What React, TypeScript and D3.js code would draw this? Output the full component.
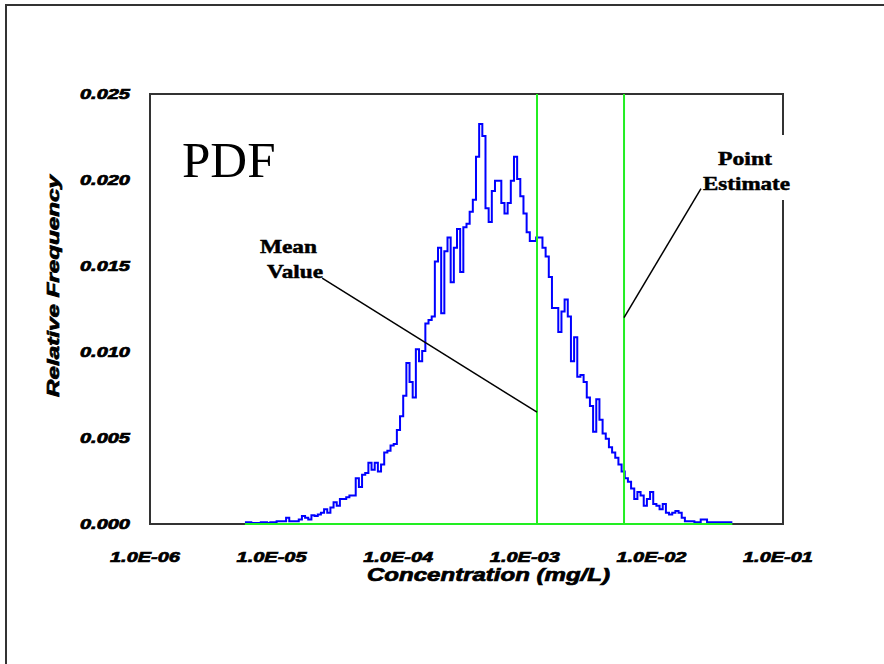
import React from 'react';
import * as d3 from 'd3';

// histogram bins: log10(concentration), uniform width
const binLogStart = -5.25;
const binLogWidth = 0.025;

// relative frequency per bin
const frequencies = [
  0.00005, 0.00005, 0, 0, 0, 0.00005, 0.00005, 0, 0.00005, 0.00005,
  0.0001, 0.0001, 0.0001, 0.0003, 0.0001, 0.0001, 0.0001, 0.0002, 0.0004, 0.0003,
  0.0002, 0.00045, 0.0004, 0.0005, 0.0006, 0.0008, 0.0006, 0.0009, 0.0012, 0.001,
  0.0014, 0.0014, 0.0015, 0.0016, 0.0016, 0.0026, 0.0021, 0.0028, 0.0029, 0.0035,
  0.0031, 0.0035, 0.003, 0.0034, 0.0041, 0.0042, 0.0045, 0.0046, 0.0054, 0.0062,
  0.0074, 0.0093, 0.0082, 0.0073, 0.0101, 0.0094, 0.01, 0.0116, 0.0118, 0.012,
  0.0152, 0.016, 0.0122, 0.0158, 0.0166, 0.014, 0.016, 0.0171, 0.0146, 0.0172,
  0.0174, 0.0181, 0.0188, 0.0213, 0.0232, 0.0225, 0.0183, 0.0175, 0.0193, 0.0199,
  0.0199, 0.0186, 0.018, 0.0186, 0.0199, 0.0213, 0.02, 0.019, 0.018, 0.0169,
  0.0164, 0.0164, 0.0166, 0.0166, 0.016, 0.0155, 0.0143, 0.0125, 0.0125, 0.0111,
  0.0123, 0.013, 0.012, 0.0094, 0.0108, 0.0085, 0.0086, 0.0082, 0.0073, 0.0068,
  0.0053, 0.0072, 0.006, 0.0052, 0.0049, 0.0044, 0.0041, 0.0038, 0.0034, 0.003,
  0.0026, 0.0024, 0.002, 0.0014, 0.0018, 0.0016, 0.001, 0.0014, 0.0018, 0.0011,
  0.001, 0.0008, 0.0011, 0.0006, 0.0005, 0.0006, 0.0007, 0.0006, 0.0003, 0.0001,
  0.0001, 0.0001, 0.00005, 0.00005, 0.0002, 0.0002, 0.00005, 0.00005, 0.00005, 0.00005,
  0.00005, 0.00005, 0.00005, 0.00005,
];

const xTicks = [1e-6, 1e-5, 1e-4, 1e-3, 1e-2, 1e-1];
const xTickLabels = ['1.0E-06', '1.0E-05', '1.0E-04', '1.0E-03', '1.0E-02', '1.0E-01'];
const yTicks = [0, 0.005, 0.01, 0.015, 0.02, 0.025];
const yTickLabels = ['0.000', '0.005', '0.010', '0.015', '0.020', '0.025'];

const meanValue = 1.14e-3;
const pointEstimate = 5.55e-3;

// leader lines: [concentration, frequency] from label to marker
const meanLeader = [[2.29e-5, 0.0143], [1.14e-3, 0.0065]];
const pointLeader = [[5.55e-3, 0.012], [2.25e-2, 0.0195]];

const W = 884;
const H = 664;
const plot = { left: 150, right: 783, top: 94, bottom: 524 };

// heavy bold italic sans, thickened a bit with a stroke
const tickFont = {
  fontFamily: '"Liberation Sans", Arial, sans-serif',
  fontWeight: 'bold',
  fontStyle: 'italic',
  stroke: '#000',
  strokeWidth: 0.7,
} as const;
const serif = '"Liberation Serif", "Times New Roman", serif';

export default function App() {
  const x = d3.scaleLog().domain([1e-6, 1e-1]).range([plot.left, plot.right]);
  const y = d3.scaleLinear().domain([0, 0.025]).range([plot.bottom, plot.top]);

  const bins = frequencies.map((f, i) => ({
    x0: Math.pow(10, binLogStart + i * binLogWidth),
    f,
  }));
  const lastEdge = Math.pow(10, binLogStart + frequencies.length * binLogWidth);
  const stepPts = [...bins, { x0: lastEdge, f: frequencies[frequencies.length - 1] }];

  const step = d3
    .line<{ x0: number; f: number }>()
    .x((d) => x(d.x0))
    .y((d) => y(d.f) - 1)
    .curve(d3.curveStepAfter);

  const seg = d3
    .line<number[]>()
    .x((d) => x(d[0]))
    .y((d) => y(d[1]));

  // plot border with a gap on the right where "Estimate" sits
  const border = `M${plot.right},135 L${plot.right},${plot.top} L${plot.left},${plot.top} L${plot.left},${plot.bottom} L${plot.right},${plot.bottom} L${plot.right},200`;

  return (
    <svg
      width={W}
      height={H}
      style={{ position: 'absolute', left: 0, top: 0, background: '#fff' }}
    >
      <rect x={6} y={5} width={950} height={720} fill="none" stroke="#333" strokeWidth={2} />

      <path d={border} fill="none" stroke="#333" strokeWidth={2} />

      {/* histogram */}
      <path d={step(stepPts) || ''} fill="none" stroke="#0000ff" strokeWidth={2} />

      {/* zero baseline of the distribution */}
      <line
        x1={x(bins[0].x0)}
        x2={x(lastEdge)}
        y1={y(0)}
        y2={y(0)}
        stroke="#22ee22"
        strokeWidth={2}
      />

      {/* mean and point estimate markers */}
      {[meanValue, pointEstimate].map((v) => (
        <line
          key={v}
          x1={x(v)}
          x2={x(v)}
          y1={y(0.025)}
          y2={y(0)}
          stroke="#22ee22"
          strokeWidth={2}
        />
      ))}

      <path d={seg(meanLeader) || ''} stroke="#000" strokeWidth={1.5} fill="none" />
      <path d={seg(pointLeader) || ''} stroke="#000" strokeWidth={1.5} fill="none" />

      {/* y tick labels */}
      {yTicks.map((t, i) => (
        <text
          key={t}
          x={plot.left - 20}
          y={y(t)}
          dy="0.35em"
          textAnchor="end"
          fontSize={14}
          textLength={50}
          lengthAdjust="spacingAndGlyphs"
          style={tickFont}
        >
          {yTickLabels[i]}
        </text>
      ))}

      {/* x tick labels */}
      {xTicks.map((t, i) => (
        <text
          key={t}
          x={x(t) - 40}
          y={562}
          fontSize={15}
          textLength={70}
          lengthAdjust="spacingAndGlyphs"
          style={tickFont}
        >
          {xTickLabels[i]}
        </text>
      ))}

      <text
        x={367}
        y={581}
        fontSize={18}
        textLength={243}
        lengthAdjust="spacingAndGlyphs"
        style={tickFont}
      >
        Concentration (mg/L)
      </text>

      <text
        transform="translate(59,397) rotate(-90)"
        fontSize={16}
        textLength={222}
        lengthAdjust="spacingAndGlyphs"
        style={tickFont}
      >
        Relative Frequency
      </text>

      <text x={182} y={177} fontFamily={serif} fontSize={51}>
        PDF
      </text>

      <g fontFamily={serif} fontWeight="bold" fontSize={19} stroke="#000" strokeWidth={0.5}>
        <text x={260} y={253} textLength={57} lengthAdjust="spacingAndGlyphs">
          Mean
        </text>
        <text x={267} y={278} textLength={56} lengthAdjust="spacingAndGlyphs">
          Value
        </text>
        <text x={718} y={165} textLength={54} lengthAdjust="spacingAndGlyphs">
          Point
        </text>
        <text x={703} y={190} textLength={87} lengthAdjust="spacingAndGlyphs">
          Estimate
        </text>
      </g>
    </svg>
  );
}
